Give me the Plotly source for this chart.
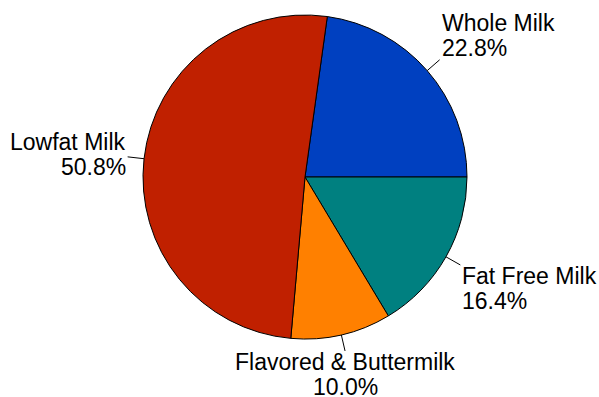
import math
import plotly.graph_objects as go

labels = ["Whole Milk", "Fat Free Milk", "Flavored & Buttermilk", "Lowfat Milk"]
values = [22.8, 16.4, 10.0, 50.8]
percent_text = ["22.8%", "16.4%", "10.0%", "50.8%"]
colors = ["#0040C0", "#008080", "#FF8000", "#C02000"]

W, H = 599, 397
cx, cy, r = 305, 177, 162
FONT = dict(family="Liberation Sans, Arial, sans-serif", size=23, color="black")
LEAD = 16.5
LINE_GAP = 25

total = sum(values)
start_deg = values[0] / total * 360.0  # first slice ends at 3 o'clock
rotation = 90 - start_deg

fig = go.Figure(go.Pie(
    labels=labels, values=values, sort=False, direction="clockwise",
    rotation=rotation,
    marker=dict(colors=colors, line=dict(color="black", width=1)),
    textinfo="none", hoverinfo="label+percent",
    showlegend=False,
    domain=dict(x=[(cx - r) / W, (cx + r) / W], y=[1 - (cy + r) / H, 1 - (cy - r) / H]),
))


def px(x, y):
    return x / W, 1 - y / H


shapes, annotations = [], []
cum = 0.0
for lab, v, pt in zip(labels, values, percent_text):
    mid = math.radians(start_deg - (cum + v / 2) / total * 360.0)
    cum += v
    c, s = math.cos(mid), math.sin(mid)
    p = (cx + r * c, cy - r * s)
    e = (cx + (r + LEAD) * c, cy - (r + LEAD) * s)
    x0, y0 = px(*p)
    x1, y1 = px(*e)
    shapes.append(dict(type="line", xref="paper", yref="paper", x0=x0, y0=y0, x1=x1, y1=y1,
                       line=dict(color="black", width=1)))
    if c > 0.3:
        xa, tx = "left", e[0] + 1
    elif c < -0.3:
        xa, tx = "right", e[0] - 1
    else:
        xa, tx = "center", e[0]
    if s > 0.3:
        c1 = e[1] - 12 - LINE_GAP
    elif s < -0.3:
        c1 = e[1] + 11.5
    else:
        c1 = e[1] - 2 - LINE_GAP / 2
    for i, t in enumerate([lab, pt]):
        ax, ay = px(tx, c1 + i * LINE_GAP)
        annotations.append(dict(text=t, x=ax, y=ay, xref="paper", yref="paper",
                                xanchor=xa, yanchor="middle", align=xa if xa != "center" else "center",
                                showarrow=False, font=FONT, borderpad=0))

fig.update_layout(width=W, height=H, margin=dict(l=0, r=0, t=0, b=0),
                  paper_bgcolor="white", plot_bgcolor="white",
                  shapes=shapes, annotations=annotations)
fig.write_html("out.html")
